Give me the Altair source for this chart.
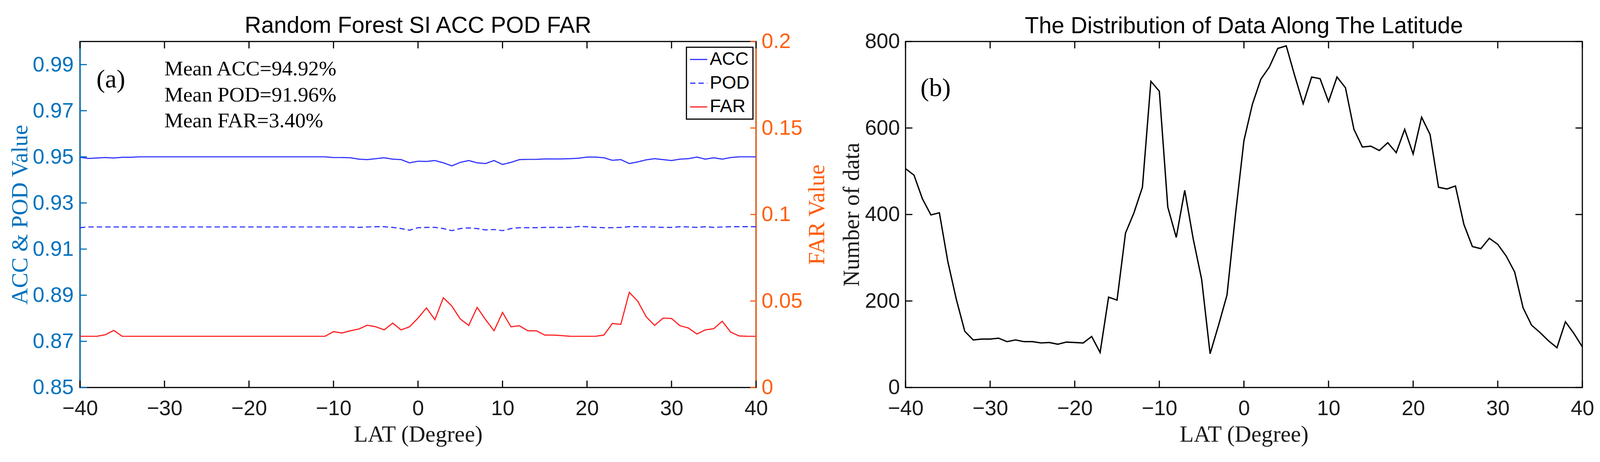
import altair as alt
import pandas as pd

# ---------------- data ----------------
lat = list(range(-40, 41))

acc = [0.9498, 0.9493, 0.9495, 0.9497, 0.9495, 0.9498, 0.9498, 0.9500, 0.9500, 0.9500,
       0.9500, 0.9500, 0.9500, 0.9500, 0.9500, 0.9500, 0.9500, 0.9500, 0.9500, 0.9500,
       0.9500, 0.9500, 0.9500, 0.9500, 0.9500, 0.9500, 0.9500, 0.9500, 0.9500, 0.9500,
       0.9497, 0.9497, 0.9496, 0.9490, 0.9488, 0.9492, 0.9496, 0.9490, 0.9488, 0.9474,
       0.9481, 0.9480, 0.9484, 0.9474, 0.9461, 0.9476, 0.9484, 0.9474, 0.9471, 0.9484,
       0.9467, 0.9476, 0.9488, 0.9489, 0.9489, 0.9491, 0.9491, 0.9491, 0.9492, 0.9494,
       0.9499, 0.9499, 0.9496, 0.9485, 0.9488, 0.9471, 0.9478, 0.9487, 0.9492, 0.9488,
       0.9484, 0.9490, 0.9492, 0.9499, 0.9490, 0.9496, 0.9490, 0.9497, 0.9500, 0.9500,
       0.9500]

pod = [0.9193, 0.9196, 0.9196, 0.9196, 0.9196, 0.9196, 0.9196, 0.9196, 0.9196, 0.9196,
       0.9196, 0.9196, 0.9196, 0.9196, 0.9196, 0.9196, 0.9196, 0.9196, 0.9196, 0.9196,
       0.9196, 0.9196, 0.9196, 0.9196, 0.9196, 0.9196, 0.9196, 0.9196, 0.9196, 0.9196,
       0.9196, 0.9196, 0.9196, 0.9194, 0.9196, 0.9197, 0.9197, 0.9194, 0.9189, 0.9182,
       0.9193, 0.9194, 0.9194, 0.9189, 0.9180, 0.9189, 0.9192, 0.9189, 0.9183, 0.9185,
       0.9180, 0.9189, 0.9193, 0.9193, 0.9193, 0.9194, 0.9194, 0.9194, 0.9194, 0.9198,
       0.9197, 0.9194, 0.9193, 0.9193, 0.9194, 0.9197, 0.9197, 0.9196, 0.9196, 0.9194,
       0.9194, 0.9197, 0.9196, 0.9194, 0.9197, 0.9194, 0.9196, 0.9197, 0.9197, 0.9197,
       0.9197]

far = [0.0296, 0.0296, 0.0296, 0.0305, 0.0330, 0.0296, 0.0296, 0.0296, 0.0296, 0.0296,
       0.0296, 0.0296, 0.0296, 0.0296, 0.0296, 0.0296, 0.0296, 0.0296, 0.0296, 0.0296,
       0.0296, 0.0296, 0.0296, 0.0296, 0.0296, 0.0296, 0.0296, 0.0296, 0.0296, 0.0296,
       0.0323, 0.0315, 0.0328, 0.0338, 0.0360, 0.0351, 0.0333, 0.0372, 0.0333, 0.0351,
       0.0401, 0.0460, 0.0392, 0.0519, 0.0471, 0.0396, 0.0359, 0.0463, 0.0392, 0.0328,
       0.0434, 0.0351, 0.0357, 0.0328, 0.0328, 0.0303, 0.0303, 0.0300, 0.0296, 0.0296,
       0.0296, 0.0296, 0.0303, 0.0370, 0.0365, 0.0550, 0.0499, 0.0409, 0.0359, 0.0401,
       0.0399, 0.0357, 0.0344, 0.0309, 0.0333, 0.0340, 0.0383, 0.0320, 0.0298, 0.0296,
       0.0296]

count = [506, 491, 436, 399, 404, 291, 204, 130, 110, 112,
         112, 114, 106, 110, 106, 106, 103, 104, 100, 105,
         104, 103, 118, 81, 209, 202, 357, 404, 463, 708,
         685, 417, 347, 456, 344, 250, 78, 144, 214, 400,
         571, 655, 713, 741, 784, 790, 721, 656, 718, 714,
         661, 718, 693, 597, 556, 558, 548, 566, 543, 597,
         540, 625, 585, 463, 459, 466, 377, 326, 321, 345,
         331, 304, 267, 184, 144, 127, 108, 92, 152, 125,
         94]

series_names = ["ACC", "POD", "FAR"]
x_ticks = [-40, -30, -20, -10, 0, 10, 20, 30, 40]
left_ticks = [0.85, 0.87, 0.89, 0.91, 0.93, 0.95, 0.97, 0.99]
far_ticks = [0, 0.05, 0.1, 0.15, 0.2]
count_ticks = [0, 200, 400, 600, 800]

title_a = "Random Forest SI ACC POD FAR"
title_b = "The Distribution of Data Along The Latitude"
mean_lines = ["Mean ACC=94.92%", "Mean POD=91.96%", "Mean FAR=3.40%"]

# ---------------- styling ----------------
W1, W2, H = 1768, 1770, 905
LEFT_MARGIN, TOP_MARGIN = 199, 86   # plot origin offset from the chart's top-left corner
AX_BLUE = "#0072BD"
AX_ORANGE = "#FF5F0F"
LINE_BLUE = "#3333FF"
LINE_RED = "#FF2020"
DARK = "#1a1a1a"
SANS = "Liberation Sans"
SERIF = "Liberation Serif"
TICK = 18

long_df = pd.DataFrame({
    "lat": lat * 3,
    "value": acc + pod + far,
    "series": ["ACC"] * len(lat) + ["POD"] * len(lat) + ["FAR"] * len(lat),
})
count_df = pd.DataFrame({"lat": lat, "count": count})

xscale = alt.Scale(domain=[-40, 40], nice=False, zero=False)


def x_axis():
    return alt.Axis(values=x_ticks, title="LAT (Degree)", titleFont=SERIF, titleFontSize=60,
                    titleFontWeight="normal", titleColor=DARK, titlePadding=11,
                    labelFont=SANS, labelFontSize=55, labelColor=DARK, labelPadding=29,
                    labelFlush=False, labelOverlap=False, ticks=False, tickSize=0,
                    domain=False, grid=False, format="d")


def count_axis():
    return alt.Axis(values=count_ticks, format="d", title="Number of data", titleFont=SERIF,
                    titleFontSize=60, titleFontWeight="normal", titleColor=DARK,
                    titlePadding=2, labelFont=SANS, labelFontSize=55, labelColor=DARK,
                    labelPadding=15, ticks=False, tickSize=0, domain=False, grid=False,
                    labelOverlap=False, labelFlush=False)


color_scale = alt.Scale(domain=series_names, range=[LINE_BLUE, LINE_BLUE, LINE_RED])
dash_scale = alt.Scale(domain=series_names, range=[[1, 0], [14, 8], [1, 0]])
legend = alt.Legend(title=None, orient="none", legendX=1586, legendY=15, direction="vertical",
                    strokeColor="black", fillColor="white", padding=8, cornerRadius=0,
                    labelFont=SANS, labelFontSize=48, labelColor="black", labelOffset=5,
                    symbolType="stroke", symbolSize=2025, symbolStrokeWidth=3, rowPadding=14)

left_scale = alt.Scale(domain=[0.85, 1.0], nice=False, zero=False)
far_scale = alt.Scale(domain=[0, 0.2], nice=False, zero=False)

acc_pod = alt.Chart(long_df).transform_filter("datum.series != 'FAR'").mark_line(strokeWidth=3).encode(
    x=alt.X("lat:Q", scale=xscale, axis=x_axis()),
    y=alt.Y("value:Q", scale=left_scale,
            axis=alt.Axis(orient="left", values=left_ticks, format=".2f", title="ACC & POD Value",
                          titleFont=SERIF, titleFontSize=60, titleFontWeight="normal",
                          titleColor=AX_BLUE, titlePadding=1, labelFont=SANS, labelFontSize=55,
                          labelColor=AX_BLUE, labelPadding=17, ticks=False, tickSize=0,
                          domainColor=AX_BLUE, domainWidth=3, grid=False, labelOverlap=False,
                          labelFlush=False)),
    color=alt.Color("series:N", scale=color_scale, legend=legend),
    strokeDash=alt.StrokeDash("series:N", scale=dash_scale, legend=legend),
    detail="series:N",
)

far_line = alt.Chart(long_df).transform_filter("datum.series == 'FAR'").mark_line(strokeWidth=3).encode(
    x=alt.X("lat:Q", scale=xscale, axis=x_axis()),
    y=alt.Y("value:Q", scale=far_scale,
            axis=alt.Axis(orient="right", values=far_ticks, format="~g", title="FAR Value",
                          titleFont=SERIF, titleFontSize=60, titleFontWeight="normal",
                          titleColor=AX_ORANGE, titleAngle=270, titleBaseline="top",
                          titlePadding=10, labelFont=SANS, labelFontSize=55,
                          labelColor=AX_ORANGE, labelPadding=14, ticks=False, tickSize=0,
                          domainColor=AX_ORANGE, domainWidth=3, grid=False, labelOverlap=False,
                          labelFlush=False)),
    color=alt.Color("series:N", scale=color_scale, legend=legend),
    strokeDash=alt.StrokeDash("series:N", scale=dash_scale, legend=legend),
)

xt_df = pd.DataFrame({"lat": x_ticks})
lt_df = pd.DataFrame({"v": left_ticks})
ft_df = pd.DataFrame({"v": far_ticks})
ct_df = pd.DataFrame({"count": count_ticks})


def x_tick_rules():
    bottom = alt.Chart(xt_df).mark_rule(color="black", strokeWidth=3).encode(
        x=alt.X("lat:Q", scale=xscale, axis=x_axis()), y=alt.value(H), y2=alt.value(H - TICK))
    top = alt.Chart(xt_df).mark_rule(color="black", strokeWidth=3).encode(
        x=alt.X("lat:Q", scale=xscale, axis=x_axis()), y=alt.value(0), y2=alt.value(TICK))
    return [bottom, top]


def text_layer(s, size, x, y, align="left", font=SERIF):
    return alt.Chart(pd.DataFrame({"t": [s]})).mark_text(
        font=font, fontSize=size, align=align, baseline="alphabetic", color="black").encode(
        x=alt.value(x), y=alt.value(y), text="t:N")


# invisible layout anchor: fixes where the plot sits inside the padded chart
anchor = alt.Chart(pd.DataFrame({"t": [0]})).mark_rule(opacity=0, strokeWidth=0).encode(
    x=alt.value(-LEFT_MARGIN), x2=alt.value(-LEFT_MARGIN + 1),
    y=alt.value(-TOP_MARGIN), y2=alt.value(-TOP_MARGIN + 1))

left_tick_rules = alt.Chart(lt_df).mark_rule(color=AX_BLUE, strokeWidth=3).encode(
    y=alt.Y("v:Q", scale=left_scale, axis=None), x=alt.value(0), x2=alt.value(TICK))
far_tick_rules = alt.Chart(ft_df).mark_rule(color=AX_ORANGE, strokeWidth=3).encode(
    y=alt.Y("v:Q", scale=far_scale, axis=None), x=alt.value(W1), x2=alt.value(W1 - 15))

left = alt.layer(
    acc_pod, far_line, left_tick_rules, far_tick_rules, *x_tick_rules(),
    text_layer("(a)", 68, 43, 120),
    text_layer(mean_lines[0], 55, 221, 89),
    text_layer(mean_lines[1], 55, 221, 157),
    text_layer(mean_lines[2], 55, 221, 224),
    text_layer(title_a, 60, W1 / 2, -23, align="center", font=SANS),
    anchor,
).resolve_scale(y="independent").properties(width=W1, height=H)

# ---------------- right panel ----------------
cscale = alt.Scale(domain=[0, 800], nice=False, zero=False)
count_line = alt.Chart(count_df).mark_line(color="black", strokeWidth=3.5).encode(
    x=alt.X("lat:Q", scale=xscale, axis=x_axis()),
    y=alt.Y("count:Q", scale=cscale, axis=count_axis()),
)
cl = alt.Chart(ct_df).mark_rule(color="black", strokeWidth=3).encode(
    y=alt.Y("count:Q", scale=cscale, axis=count_axis()), x=alt.value(0), x2=alt.value(TICK))
cr = alt.Chart(ct_df).mark_rule(color="black", strokeWidth=3).encode(
    y=alt.Y("count:Q", scale=cscale, axis=count_axis()), x=alt.value(W2), x2=alt.value(W2 - TICK))

right = alt.layer(
    count_line, cl, cr, *x_tick_rules(),
    text_layer("(b)", 68, 39, 143),
    text_layer(title_b, 60, W2 / 2, -22, align="center", font=SANS),
).properties(width=W2, height=H)

chart = alt.HConcatChart(hconcat=[left, right], spacing=391, bounds="flush").configure_view(
    stroke="black", strokeWidth=3
).configure_legend(strokeWidth=3).properties(
    padding={"left": 0, "top": 0, "right": 5, "bottom": 5}, background="white"
)

chart.save("out.html", embed_options={"renderer": "svg", "actions": False})
